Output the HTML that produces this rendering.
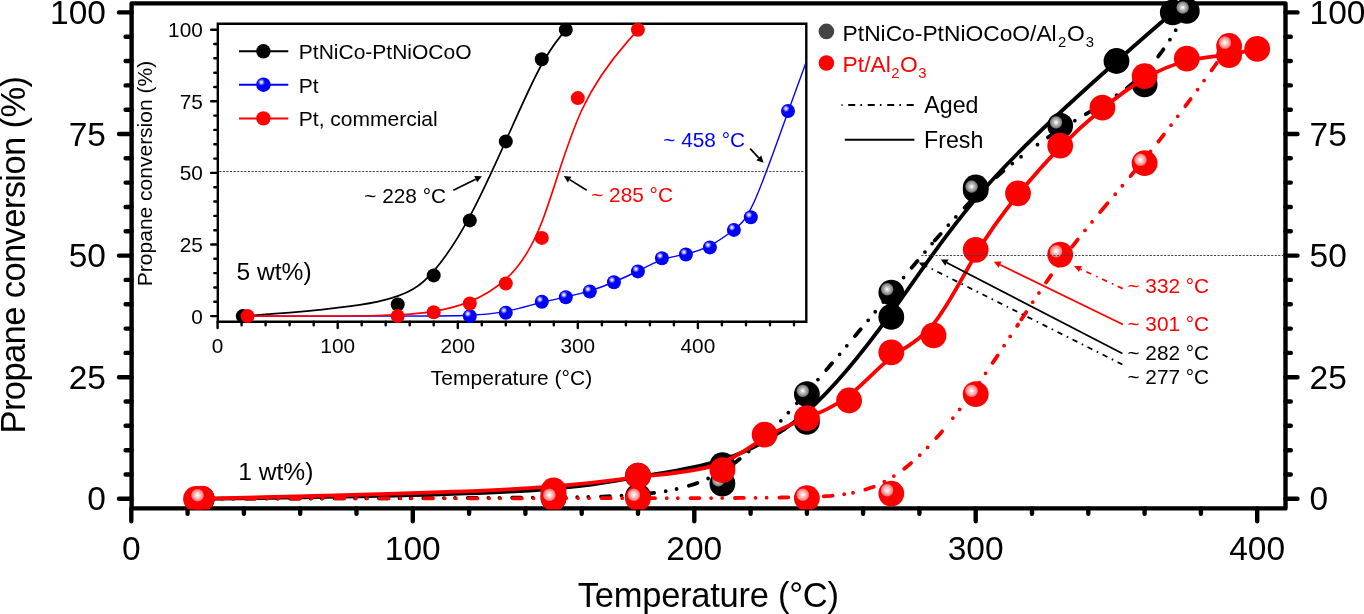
<!DOCTYPE html>
<html><head><meta charset="utf-8"><title>Propane conversion</title>
<style>html,body{margin:0;padding:0;background:#fff;}body{width:1364px;height:614px;overflow:hidden;position:relative;font-family:"Liberation Sans",sans-serif;}</style>
</head><body>
<svg width="1364" height="614" viewBox="0 0 1364 614" style="position:absolute;left:0;top:0;will-change:transform">
<defs>
<radialGradient id="gR" cx="0.34" cy="0.37" r="0.5" fx="0.34" fy="0.37">
 <stop offset="0" stop-color="#fff"/><stop offset="0.06" stop-color="#fff"/><stop offset="0.16" stop-color="#ffd2d2"/><stop offset="0.3" stop-color="#ffaaaa"/><stop offset="0.42" stop-color="#ff8282"/><stop offset="0.47" stop-color="#ff5050"/><stop offset="0.51" stop-color="#f00"/><stop offset="1" stop-color="#f00"/>
</radialGradient>
<radialGradient id="gK" cx="0.34" cy="0.37" r="0.5" fx="0.34" fy="0.37">
 <stop offset="0" stop-color="#fff"/><stop offset="0.06" stop-color="#f4f4f4"/><stop offset="0.16" stop-color="#cacaca"/><stop offset="0.3" stop-color="#a2a2a2"/><stop offset="0.42" stop-color="#828282"/><stop offset="0.47" stop-color="#484848"/><stop offset="0.51" stop-color="#000"/><stop offset="1" stop-color="#000"/>
</radialGradient>
<radialGradient id="gB" cx="0.36" cy="0.33" r="0.5" fx="0.36" fy="0.33">
 <stop offset="0" stop-color="#fff"/><stop offset="0.12" stop-color="#dcdcff"/><stop offset="0.3" stop-color="#7070ff"/><stop offset="0.5" stop-color="#00f"/><stop offset="1" stop-color="#00f"/>
</radialGradient>
</defs>
<rect width="1364" height="614" fill="#fff"/>
<line x1="219.3" y1="171.5" x2="804.3" y2="171.5" stroke="#404040" stroke-width="1" stroke-dasharray="2.1,1.47"/>
<path d="M217.8,321.8 L217.8,23.8 L806.3,23.8 L806.3,321.8 Z" fill="none" stroke="#000" stroke-width="2.4" stroke-linejoin="miter"/>
<path d="M211.2,316.1H217.8M214.3,301.8H217.8M214.3,287.5H217.8M214.3,273.1H217.8M214.3,258.8H217.8M211.2,244.5H217.8M214.3,230.2H217.8M214.3,215.9H217.8M214.3,201.5H217.8M214.3,187.2H217.8M211.2,172.9H217.8M214.3,158.6H217.8M214.3,144.3H217.8M214.3,129.9H217.8M214.3,115.6H217.8M211.2,101.3H217.8M214.3,87.0H217.8M214.3,72.7H217.8M214.3,58.3H217.8M214.3,44.0H217.8M211.2,29.7H217.8M217.6,321.8V328.0M241.6,321.8V325.2M265.6,321.8V325.2M289.6,321.8V325.2M313.7,321.8V325.2M337.7,321.8V328.0M361.7,321.8V325.2M385.7,321.8V325.2M409.7,321.8V325.2M433.7,321.8V325.2M457.8,321.8V328.0M481.8,321.8V325.2M505.8,321.8V325.2M529.8,321.8V325.2M553.8,321.8V325.2M577.8,321.8V328.0M601.9,321.8V325.2M625.9,321.8V325.2M649.9,321.8V325.2M673.9,321.8V325.2M697.9,321.8V328.0M721.9,321.8V325.2M746.0,321.8V325.2M770.0,321.8V325.2M794.0,321.8V325.2" stroke="#000" stroke-width="2.4" stroke-linecap="round"/>
<clipPath id="cpI"><rect x="218" y="23" width="588.3" height="299"/></clipPath>
<g clip-path="url(#cpI)">
<path d="M242.8,316.1 C242.8,316.1 242.8,316.1 268.6,314.2 C294.5,312.2 346.1,308.4 377.9,301.6 C409.7,294.8 421.7,285.1 433.7,271.1 C445.8,257.1 457.8,238.8 469.8,216.4 C481.8,194.1 493.8,167.7 505.8,140.9 C517.8,114.0 529.8,86.6 539.8,68.0 C549.8,49.4 557.8,39.5 561.8,34.6 C565.8,29.7 565.8,29.7 565.8,29.7" fill="none" stroke="#000" stroke-width="1.7"/>
<path d="M247.6,316.1 C247.6,316.1 247.6,316.1 272.6,316.1 C297.7,316.1 347.7,316.1 384.7,316.1 C421.7,316.1 445.8,316.1 463.8,315.5 C481.8,315.0 493.8,313.8 505.8,311.4 C517.8,309.0 529.8,305.4 539.8,302.8 C549.8,300.3 557.8,298.7 565.8,297.0 C573.8,295.3 581.8,293.4 589.8,290.9 C597.9,288.4 605.9,285.4 613.9,282.0 C621.9,278.7 629.9,275.0 637.9,271.0 C645.9,267.0 653.9,262.6 661.9,259.8 C669.9,257.0 677.9,255.8 685.9,254.0 C693.9,252.1 701.9,249.8 709.9,245.6 C717.9,241.5 725.9,235.7 732.7,230.7 C739.5,225.7 745.2,221.5 754.2,201.7 C763.2,181.9 775.6,146.5 786.8,115.2 C798.0,83.9 808.0,56.8 813.0,43.3 C818.0,29.7 818.0,29.7 818.0,29.7" fill="none" stroke="#00f" stroke-width="1.4"/>
<path d="M247.6,316.1 C247.6,316.1 247.6,316.1 272.6,316.1 C297.7,316.1 347.7,316.1 378.7,315.5 C409.7,314.8 421.7,313.5 433.7,311.4 C445.8,309.3 457.8,306.4 469.8,301.6 C481.8,296.8 493.8,290.1 505.8,279.2 C517.8,268.3 529.8,253.1 541.8,222.2 C553.8,191.3 565.8,144.7 581.8,110.0 C597.9,75.3 617.9,52.5 627.9,41.1 C637.9,29.7 637.9,29.7 637.9,29.7" fill="none" stroke="#f00" stroke-width="1.7"/>
</g>
<circle cx="242.8" cy="316.1" r="7.0" fill="#000"/>
<circle cx="397.7" cy="304.5" r="7.0" fill="#000"/>
<circle cx="433.7" cy="275.4" r="7.0" fill="#000"/>
<circle cx="469.8" cy="220.4" r="7.0" fill="#000"/>
<circle cx="505.8" cy="141.4" r="7.0" fill="#000"/>
<circle cx="541.8" cy="59.2" r="7.0" fill="#000"/>
<circle cx="565.8" cy="29.7" r="7.0" fill="#000"/>
<circle cx="469.8" cy="316.1" r="7.0" fill="url(#gB)"/>
<circle cx="505.8" cy="312.7" r="7.0" fill="url(#gB)"/>
<circle cx="541.8" cy="301.8" r="7.0" fill="url(#gB)"/>
<circle cx="565.8" cy="297.2" r="7.0" fill="url(#gB)"/>
<circle cx="589.8" cy="291.5" r="7.0" fill="url(#gB)"/>
<circle cx="613.9" cy="282.3" r="7.0" fill="url(#gB)"/>
<circle cx="637.9" cy="271.4" r="7.0" fill="url(#gB)"/>
<circle cx="661.9" cy="258.2" r="7.0" fill="url(#gB)"/>
<circle cx="685.9" cy="254.5" r="7.0" fill="url(#gB)"/>
<circle cx="709.9" cy="247.4" r="7.0" fill="url(#gB)"/>
<circle cx="733.9" cy="229.9" r="7.0" fill="url(#gB)"/>
<circle cx="750.8" cy="217.3" r="7.0" fill="url(#gB)"/>
<circle cx="788.0" cy="111.0" r="7.0" fill="url(#gB)"/>
<circle cx="247.6" cy="316.1" r="7.0" fill="#f00"/>
<circle cx="397.7" cy="316.1" r="7.0" fill="#f00"/>
<circle cx="433.7" cy="312.2" r="7.0" fill="#f00"/>
<circle cx="469.8" cy="303.5" r="7.0" fill="#f00"/>
<circle cx="505.8" cy="283.5" r="7.0" fill="#f00"/>
<circle cx="541.8" cy="237.9" r="7.0" fill="#f00"/>
<circle cx="577.8" cy="98.1" r="7.0" fill="#f00"/>
<circle cx="637.9" cy="29.7" r="7.0" fill="#f00"/>
<text x="202.8" y="323.5" font-family="Liberation Sans, sans-serif" font-size="20.8" text-anchor="end">0</text>
<text x="202.8" y="251.9" font-family="Liberation Sans, sans-serif" font-size="20.8" text-anchor="end">25</text>
<text x="202.8" y="180.3" font-family="Liberation Sans, sans-serif" font-size="20.8" text-anchor="end">50</text>
<text x="202.8" y="108.7" font-family="Liberation Sans, sans-serif" font-size="20.8" text-anchor="end">75</text>
<text x="202.8" y="37.1" font-family="Liberation Sans, sans-serif" font-size="20.8" text-anchor="end">100</text>
<text x="217.6" y="352.8" font-family="Liberation Sans, sans-serif" font-size="20.8" text-anchor="middle">0</text>
<text x="337.7" y="352.8" font-family="Liberation Sans, sans-serif" font-size="20.8" text-anchor="middle">100</text>
<text x="457.8" y="352.8" font-family="Liberation Sans, sans-serif" font-size="20.8" text-anchor="middle">200</text>
<text x="577.8" y="352.8" font-family="Liberation Sans, sans-serif" font-size="20.8" text-anchor="middle">300</text>
<text x="697.9" y="352.8" font-family="Liberation Sans, sans-serif" font-size="20.8" text-anchor="middle">400</text>
<text x="0" y="0" font-family="Liberation Sans, sans-serif" font-size="21" text-anchor="middle" transform="translate(151.8,173.5) rotate(-90)">Propane conversion (%)</text>
<text x="511.5" y="384.6" font-family="Liberation Sans, sans-serif" font-size="21" text-anchor="middle">Temperature (°C)</text>
<line x1="239" y1="51.3" x2="288.3" y2="51.3" stroke="#000" stroke-width="2"/>
<circle cx="263.4" cy="51.3" r="7.2" fill="#000"/>
<text x="298.8" y="59.2" font-family="Liberation Sans, sans-serif" font-size="21">PtNiCo-PtNiOCoO</text>
<line x1="239" y1="84.7" x2="288.3" y2="84.7" stroke="#00f" stroke-width="2"/>
<circle cx="263.4" cy="84.7" r="7.2" fill="url(#gB)"/>
<text x="298.8" y="92.6" font-family="Liberation Sans, sans-serif" font-size="21">Pt</text>
<line x1="239" y1="118.4" x2="288.3" y2="118.4" stroke="#f00" stroke-width="2"/>
<circle cx="263.4" cy="118.4" r="7.2" fill="#f00"/>
<text x="298.8" y="126.3" font-family="Liberation Sans, sans-serif" font-size="21">Pt, commercial</text>
<text x="236.5" y="280.3" font-family="Liberation Sans, sans-serif" font-size="24.6">5 wt%)</text>
<text x="364.3" y="202.9" font-family="Liberation Sans, sans-serif" font-size="20.8">~ 228 °C</text>
<text x="591.2" y="201.9" font-family="Liberation Sans, sans-serif" font-size="20.8" fill="#f00">~ 285 °C</text>
<text x="663.3" y="146.8" font-family="Liberation Sans, sans-serif" font-size="20.8" fill="#00f">~ 458 °C</text>
<line x1="453.3" y1="190.2" x2="475.7" y2="179.2" stroke="#000" stroke-width="1.7"/><path d="M481.9,176.2 L477.2,182.3 L474.2,176.1 Z" fill="#000"/>
<line x1="586.7" y1="190.2" x2="569.7" y2="179.6" stroke="#000" stroke-width="1.7"/><path d="M563.8,176.0 L571.5,176.7 L567.8,182.6 Z" fill="#000"/>
<line x1="750.1" y1="148.6" x2="758.8" y2="157.8" stroke="#000" stroke-width="1.7"/><path d="M763.6,162.8 L756.3,160.2 L761.3,155.4 Z" fill="#000"/>
<path d="M131.6,508.4 L131.6,3.35 L1285.5,3.35 L1285.5,508.4 Z" fill="none" stroke="#000" stroke-width="4.4" stroke-linejoin="round"/>
<path d="M119,498.8H131.6M1285.5,498.8H1297.5M125.6,474.5H131.6M1285.5,474.5H1290.8M125.6,450.2H131.6M1285.5,450.2H1290.8M125.6,425.8H131.6M1285.5,425.8H1290.8M125.6,401.5H131.6M1285.5,401.5H1290.8M119,377.2H131.6M1285.5,377.2H1297.5M125.6,352.9H131.6M1285.5,352.9H1290.8M125.6,328.6H131.6M1285.5,328.6H1290.8M125.6,304.2H131.6M1285.5,304.2H1290.8M125.6,279.9H131.6M1285.5,279.9H1290.8M119,255.6H131.6M1285.5,255.6H1297.5M125.6,231.3H131.6M1285.5,231.3H1290.8M125.6,207.0H131.6M1285.5,207.0H1290.8M125.6,182.6H131.6M1285.5,182.6H1290.8M125.6,158.3H131.6M1285.5,158.3H1290.8M119,134.0H131.6M1285.5,134.0H1297.5M125.6,109.7H131.6M1285.5,109.7H1290.8M125.6,85.4H131.6M1285.5,85.4H1290.8M125.6,61.0H131.6M1285.5,61.0H1290.8M125.6,36.7H131.6M1285.5,36.7H1290.8M119,12.4H131.6M1285.5,12.4H1297.5M131.3,508.4V521.2M187.6,508.4V513.8M243.9,508.4V513.8M300.2,508.4V513.8M356.5,508.4V513.8M412.8,508.4V521.2M469.1,508.4V513.8M525.4,508.4V513.8M581.7,508.4V513.8M638.0,508.4V513.8M694.3,508.4V521.2M750.6,508.4V513.8M806.9,508.4V513.8M863.1,508.4V513.8M919.4,508.4V513.8M975.7,508.4V521.2M1032.0,508.4V513.8M1088.3,508.4V513.8M1144.6,508.4V513.8M1200.9,508.4V513.8M1257.2,508.4V521.2" stroke="#000" stroke-width="4.4" stroke-linecap="round"/>
<clipPath id="cpM"><rect x="129.4" y="0" width="1158.3" height="509.6"/></clipPath><g clip-path="url(#cpM)">
<path d="M201.7,498.8 C201.7,498.8 201.7,498.8 260.3,498.0 C319.0,497.2 436.2,495.6 509.0,491.7 C581.7,487.9 609.8,481.8 638.0,477.0 C666.1,472.2 694.3,468.6 722.4,459.7 C750.6,450.7 778.7,436.3 806.9,411.6 C835.0,386.9 863.1,351.9 891.3,312.8 C919.4,273.8 947.6,230.6 985.1,188.0 C1022.7,145.3 1069.6,103.2 1102.4,74.0 C1135.2,44.8 1154.0,28.6 1163.4,20.5 C1172.8,12.4 1172.8,12.4 1172.8,12.4" fill="none" stroke="#000" stroke-width="3.8" stroke-linecap="round" stroke-linejoin="round"/>
<circle cx="201.7" cy="498.8" r="12.9" fill="#000"/>
<circle cx="553.5" cy="493.9" r="12.9" fill="#000"/>
<circle cx="638.0" cy="475.7" r="12.9" fill="#000"/>
<circle cx="722.4" cy="465.1" r="12.9" fill="#000"/>
<circle cx="806.9" cy="421.9" r="12.9" fill="#000"/>
<circle cx="891.3" cy="316.9" r="12.9" fill="#000"/>
<circle cx="975.7" cy="187.5" r="12.9" fill="#000"/>
<circle cx="1116.5" cy="61.0" r="12.9" fill="#000"/>
<circle cx="1172.8" cy="12.4" r="12.9" fill="#000"/>
<path d="M201.7,498.8 L201.7,498.8 L201.7,498.8 L201.8,498.8 L201.9,498.8 L202.2,498.8 L202.6,498.8 L203.1,498.8 L203.8,498.8 L204.8,498.8 L205.9,498.8 L207.3,498.8 L209.0,498.8 L211.0,498.8 L213.3,498.8 L216.0,498.8 L219.0,498.8 L222.5,498.7 L226.4,498.7 L230.8,498.7 L235.6,498.7 L241.0,498.7 L246.8,498.7 L253.3,498.7 L260.3,498.6 L267.9,498.6 L276.1,498.6 L284.8,498.6 L294.0,498.5 L303.7,498.5 L313.7,498.5 L324.0,498.5 L334.7,498.4 L345.6,498.4 L356.7,498.4 L368.0,498.3 L379.4,498.3 L390.8,498.2 L402.3,498.2 L413.8,498.2 L425.2,498.1 L436.5,498.1 L447.7,498.0 L458.6,498.0 L469.4,497.9 L479.8,497.9 L489.9,497.8 L499.6,497.8 L509.0,497.7 L517.8,497.7 L526.2,497.6 L534.2,497.6 L541.8,497.5 L549.0,497.5 L555.8,497.4 L562.3,497.3 L568.5,497.2 L574.3,497.2 L579.9,497.1 L585.1,497.0 L590.2,496.9 L595.0,496.7 L599.6,496.6 L603.9,496.5 L608.2,496.3 L612.2,496.1 L616.2,495.9 L620.0,495.7 L623.7,495.5 L627.3,495.3 L630.9,495.1 L634.4,494.8 L638.0,494.5 L641.5,494.2 L645.0,493.9 L648.5,493.5 L652.0,493.1 L655.6,492.7 L659.1,492.2 L662.6,491.7 L666.1,491.1 L669.6,490.5 L673.1,489.8 L676.7,489.0 L680.2,488.2 L683.7,487.3 L687.2,486.3 L690.7,485.2 L694.3,484.1 L697.8,482.8 L701.3,481.5 L704.8,480.0 L708.3,478.4 L711.9,476.7 L715.4,474.9 L718.9,473.0 L722.4,470.9 L725.9,468.7 L729.4,466.4 L733.0,463.9 L736.5,461.4" fill="none" stroke="#000" stroke-width="3.8" stroke-linecap="round" stroke-linejoin="round" stroke-dasharray="8.9,11.7,0,11.1,0,12.7" stroke-dashoffset="0.31"/>
<path d="M736.5,461.4 L740.0,458.7 L743.5,455.9 L747.0,453.0 L750.6,450.0 L754.1,446.9 L757.6,443.7 L761.1,440.5 L764.6,437.1 L768.1,433.7 L771.7,430.2 L775.2,426.6 L778.7,423.0 L782.2,419.3 L785.7,415.5 L789.3,411.7 L792.8,407.9 L796.3,404.0 L799.8,400.1 L803.3,396.2 L806.9,392.2 L810.4,388.2 L813.9,384.2 L817.4,380.2 L820.9,376.1 L824.4,372.0 L828.0,368.0 L831.5,363.8 L835.0,359.7 L838.5,355.6 L842.0,351.5 L845.6,347.3 L849.1,343.1 L852.6,338.9 L856.1,334.7 L859.6,330.5 L863.1,326.3 L866.7,322.1 L870.2,317.9 L873.7,313.6 L877.2,309.4 L880.7,305.2 L884.3,300.9 L887.8,296.7 L891.3,292.4 L894.8,288.1 L898.3,283.9 L901.9,279.6 L905.4,275.4 L908.9,271.2 L912.4,266.9 L915.9,262.7 L919.4,258.5 L923.0,254.4 L926.5,250.2 L930.0,246.1 L933.5,242.0" fill="none" stroke="#000" stroke-width="3.8" stroke-linecap="round" stroke-linejoin="round" stroke-dasharray="8.9,11.7,0,11.1,0,12.7" stroke-dashoffset="4.86"/>
<path d="M933.5,242.0 L937.0,238.0 L940.6,234.0 L944.1,230.0 L947.6,226.0 L951.1,222.1 L954.6,218.3 L958.1,214.5 L961.7,210.7 L965.2,207.1 L968.7,203.4 L972.2,199.8 L975.7,196.3 L979.3,192.9 L982.8,189.5 L986.3,186.2 L989.8,183.0 L993.3,179.8 L996.9,176.6 L1000.4,173.6 L1003.9,170.6 L1007.4,167.6 L1010.9,164.7 L1014.4,161.9 L1018.0,159.1 L1021.5,156.4 L1025.0,153.7 L1028.5,151.1" fill="none" stroke="#000" stroke-width="3.8" stroke-linecap="round" stroke-linejoin="round" stroke-dasharray="8.9,11.7,0,11.1,0,12.7" stroke-dashoffset="42.50"/>
<path d="M1028.5,151.1 L1032.0,148.5 L1035.6,146.0 L1039.1,143.5 L1042.6,141.1 L1046.1,138.7 L1049.6,136.3 L1053.1,134.0 L1056.7,131.8 L1060.2,129.5 L1063.7,127.4 L1067.2,125.2 L1070.7,123.1 L1074.2,121.0 L1077.7,119.0 L1081.2,116.9 L1084.6,114.9 L1088.1,112.9 L1091.5,110.9 L1094.9,108.9 L1098.2,106.9 L1101.5,104.9 L1104.8,102.9 L1108.0,100.8" fill="none" stroke="#000" stroke-width="3.8" stroke-linecap="round" stroke-linejoin="round" stroke-dasharray="8.9,11.7,0,11.1,0,12.7" stroke-dashoffset="20.63"/>
<path d="M1108.0,100.8 L1111.2,98.8 L1114.4,96.7 L1117.5,94.6 L1120.5,92.5 L1123.5,90.4 L1126.5,88.2 L1129.4,86.0 L1132.2,83.7 L1134.9,81.4 L1137.6,79.0 L1140.2,76.6 L1142.7,74.2 L1145.2,71.6 L1147.6,69.1 L1149.9,66.5 L1152.1,64.0 L1154.3,61.4 L1156.4,58.8 L1158.4,56.2 L1160.3,53.6 L1162.2,51.1 L1164.0,48.5 L1165.7,46.0 L1167.4,43.6 L1168.9,41.2 L1170.4,38.9 L1171.9,36.6 L1173.2,34.4 L1174.5,32.3 L1175.7,30.2 L1176.8,28.3 L1177.9,26.5 L1178.9,24.8 L1179.8,23.2 L1180.7,21.7 L1181.4,20.4 L1182.1,19.1 L1182.8,18.0 L1183.4,17.0 L1183.9,16.1 L1184.3,15.3 L1184.8,14.6 L1185.1,13.9 L1185.5,13.4 L1185.7,12.9 L1186.0,12.5 L1186.2,12.1 L1186.3,11.8 L1186.5,11.6 L1186.6,11.4 L1186.7,11.2 L1186.7,11.1 L1186.8,11.1 L1186.8,11.0 L1186.8,11.0 L1186.8,10.9 L1186.8,10.9 L1186.9,10.9" fill="none" stroke="#000" stroke-width="3.8" stroke-linecap="round" stroke-linejoin="round" stroke-dasharray="8.9,11.7,0,11.1,0,12.7" stroke-dashoffset="21.52"/>
<circle cx="201.7" cy="498.8" r="12.9" fill="url(#gK)"/>
<circle cx="553.5" cy="497.8" r="12.9" fill="url(#gK)"/>
<circle cx="638.0" cy="496.4" r="12.9" fill="url(#gK)"/>
<circle cx="722.4" cy="483.7" r="12.9" fill="url(#gK)"/>
<circle cx="806.9" cy="394.2" r="12.9" fill="url(#gK)"/>
<circle cx="891.3" cy="292.6" r="12.9" fill="url(#gK)"/>
<circle cx="975.7" cy="189.9" r="12.9" fill="url(#gK)"/>
<circle cx="1060.2" cy="125.7" r="12.9" fill="url(#gK)"/>
<circle cx="1144.6" cy="84.4" r="12.9" fill="url(#gK)"/>
<circle cx="1186.8" cy="10.9" r="12.9" fill="url(#gK)"/>
<path d="M196.0,498.8 C196.0,498.8 196.0,498.8 255.6,497.4 C315.2,496.0 434.4,493.3 508.0,489.4 C581.7,485.6 609.8,480.6 638.0,477.2 C666.1,473.8 694.3,472.0 715.4,465.1 C736.5,458.3 750.6,446.4 764.6,437.8 C778.7,429.1 792.8,423.6 806.9,417.9 C820.9,412.2 835.0,406.4 849.1,395.4 C863.1,384.5 877.2,368.4 891.3,357.6 C905.4,346.7 919.4,341.0 933.5,323.9 C947.6,306.8 961.7,278.3 975.7,254.6 C989.8,231.0 1003.9,212.1 1018.0,194.8 C1032.0,177.5 1046.1,161.6 1060.2,147.3 C1074.3,133.0 1088.3,120.4 1102.4,108.8 C1116.5,97.2 1130.6,86.7 1144.6,78.5 C1158.7,70.3 1172.8,64.4 1186.8,61.0 C1200.9,57.5 1215.0,56.3 1226.7,54.7 C1238.5,53.1 1247.8,51.0 1252.5,49.9 C1257.2,48.9 1257.2,48.9 1257.2,48.9" fill="none" stroke="#f00" stroke-width="3.8" stroke-linecap="round" stroke-linejoin="round"/>
<circle cx="196.0" cy="498.8" r="12.9" fill="#f00"/>
<circle cx="553.5" cy="490.5" r="12.9" fill="#f00"/>
<circle cx="638.0" cy="475.7" r="12.9" fill="#f00"/>
<circle cx="722.4" cy="470.1" r="12.9" fill="#f00"/>
<circle cx="764.6" cy="434.6" r="12.9" fill="#f00"/>
<circle cx="806.9" cy="418.1" r="12.9" fill="#f00"/>
<circle cx="849.1" cy="400.5" r="12.9" fill="#f00"/>
<circle cx="891.3" cy="352.4" r="12.9" fill="#f00"/>
<circle cx="933.5" cy="335.4" r="12.9" fill="#f00"/>
<circle cx="975.7" cy="249.8" r="12.9" fill="#f00"/>
<circle cx="1018.0" cy="193.3" r="12.9" fill="#f00"/>
<circle cx="1060.2" cy="145.7" r="12.9" fill="#f00"/>
<circle cx="1102.4" cy="107.7" r="12.9" fill="#f00"/>
<circle cx="1144.6" cy="76.1" r="12.9" fill="#f00"/>
<circle cx="1186.8" cy="58.6" r="12.9" fill="#f00"/>
<circle cx="1229.1" cy="55.2" r="12.9" fill="#f00"/>
<circle cx="1257.2" cy="48.9" r="12.9" fill="#f00"/>
<path d="M201.7,498.6 L201.7,498.6 L201.7,498.6 L201.8,498.6 L201.9,498.6 L202.2,498.6 L202.6,498.6 L203.1,498.6 L203.8,498.6 L204.8,498.6 L205.9,498.6 L207.3,498.6 L209.0,498.5 L211.0,498.5 L213.3,498.5 L216.0,498.5 L219.0,498.5 L222.5,498.5 L226.4,498.5 L230.8,498.5 L235.6,498.5 L241.0,498.5 L246.8,498.5 L253.3,498.5 L260.3,498.5 L267.9,498.5 L276.1,498.5 L284.8,498.5 L294.0,498.5 L303.7,498.5 L313.7,498.4 L324.0,498.4 L334.7,498.4 L345.6,498.4 L356.7,498.4 L368.0,498.4 L379.4,498.4 L390.8,498.4 L402.3,498.4 L413.8,498.4 L425.2,498.3 L436.5,498.3 L447.7,498.3 L458.6,498.3 L469.4,498.3 L479.8,498.3 L489.9,498.3 L499.6,498.3 L509.0,498.3 L517.8,498.3 L526.2,498.3 L534.2,498.3 L541.9,498.2 L549.1,498.2 L556.0,498.2 L562.7,498.2 L569.0,498.2 L575.0,498.2 L580.9,498.2 L586.5,498.2 L591.9,498.2 L597.2,498.2 L602.3,498.2 L607.4,498.2 L612.3,498.2 L617.2,498.2 L622.1,498.2 L627.0,498.2 L631.8,498.2 L636.7,498.2 L641.7,498.2 L646.8,498.2 L652.0,498.2 L657.4,498.2 L662.9,498.2 L668.5,498.2 L674.2,498.2 L680.0,498.2 L685.9,498.2 L691.9,498.1 L697.9,498.1 L704.0,498.1 L710.1,498.1 L716.3,498.1 L722.4,498.1 L728.6,498.0 L734.7,498.0 L740.8,497.9 L746.9,497.9 L752.9,497.9 L758.9,497.8 L764.8,497.7 L770.6,497.7 L776.3,497.6 L781.9,497.5 L787.4,497.4 L792.8,497.3 L798.0,497.2 L803.0,497.1 L808.0,497.0 L812.8,496.8 L817.5,496.6 L822.0,496.4 L826.5,496.1 L830.8,495.8 L835.1,495.4 L839.2,494.9 L843.3,494.4 L847.3,493.8 L851.2,493.1" fill="none" stroke="#f00" stroke-width="3.8" stroke-linecap="round" stroke-linejoin="round" stroke-dasharray="8.9,11.7,0,11.1,0,12.7" stroke-dashoffset="43.97"/>
<path d="M851.2,493.1 L855.1,492.3 L858.9,491.4 L862.6,490.4 L866.3,489.3 L870.0,488.0 L873.6,486.7 L877.2,485.2 L880.7,483.6 L884.3,481.8 L887.8,479.9 L891.3,477.8 L894.8,475.5 L898.3,473.1 L901.9,470.6 L905.4,467.8 L908.9,465.0 L912.4,462.0 L915.9,458.8 L919.4,455.5 L923.0,452.1 L926.5,448.6 L930.0,444.9 L933.5,441.1 L937.0,437.2 L940.6,433.2 L944.1,429.0 L947.6,424.8" fill="none" stroke="#f00" stroke-width="3.8" stroke-linecap="round" stroke-linejoin="round" stroke-dasharray="8.9,11.7,0,11.1,0,12.7" stroke-dashoffset="29.84"/>
<path d="M947.6,424.8 L951.1,420.4 L954.6,416.0 L958.1,411.5 L961.7,406.8 L965.2,402.1 L968.7,397.3 L972.2,392.5 L975.7,387.5 L979.3,382.5 L982.8,377.4 L986.3,372.3 L989.8,367.1 L993.3,361.9 L996.9,356.6 L1000.4,351.3 L1003.9,346.0 L1007.4,340.7 L1010.9,335.3 L1014.4,329.9 L1018.0,324.6" fill="none" stroke="#f00" stroke-width="3.8" stroke-linecap="round" stroke-linejoin="round" stroke-dasharray="8.9,11.7,0,11.1,0,12.7" stroke-dashoffset="12.16"/>
<path d="M1018.0,324.6 L1021.5,319.2 L1025.0,313.9 L1028.5,308.6 L1032.0,303.3 L1035.6,298.0 L1039.1,292.8 L1042.6,287.6 L1046.1,282.5 L1049.6,277.4 L1053.1,272.4 L1056.7,267.5 L1060.2,262.7 L1063.7,257.9 L1067.2,253.2 L1070.7,248.6 L1074.3,244.0 L1077.8,239.5 L1081.3,235.1 L1084.8,230.7 L1088.3,226.4 L1091.9,222.1 L1095.4,217.8 L1098.9,213.6 L1102.4,209.4" fill="none" stroke="#f00" stroke-width="3.8" stroke-linecap="round" stroke-linejoin="round" stroke-dasharray="8.9,11.7,0,11.1,0,12.7" stroke-dashoffset="38.20"/>
<path d="M1102.4,209.4 L1105.9,205.2 L1109.4,201.0 L1113.0,196.8 L1116.5,192.7 L1120.0,188.5 L1123.5,184.4 L1127.0,180.2 L1130.6,176.0 L1134.1,171.8 L1137.6,167.5 L1141.1,163.2 L1144.6,158.9 L1148.1,154.5 L1151.7,150.1 L1155.2,145.7 L1158.6,141.3 L1162.1,136.8 L1165.5,132.4 L1168.9,128.0 L1172.3,123.6 L1175.6,119.2 L1178.8,114.9 L1182.0,110.7 L1185.1,106.5 L1188.1,102.4 L1191.1,98.4 L1194.0,94.5 L1196.8,90.7 L1199.4,87.0 L1202.0,83.4 L1204.5,80.0 L1206.9,76.8 L1209.1,73.7 L1211.2,70.8 L1213.2,68.0 L1215.0,65.5 L1216.7,63.2 L1218.2,61.0 L1219.6,59.0 L1220.9,57.3 L1222.1,55.7 L1223.1,54.2 L1224.1,52.9 L1224.9,51.8 L1225.6,50.7 L1226.3,49.8 L1226.8,49.1 L1227.3,48.4 L1227.7,47.8 L1228.1,47.4 L1228.3,47.0 L1228.6,46.7 L1228.7,46.4 L1228.9,46.3 L1228.9,46.1 L1229.0,46.1 L1229.0,46.0 L1229.1,46.0 L1229.1,46.0 L1229.1,46.0" fill="none" stroke="#f00" stroke-width="3.8" stroke-linecap="round" stroke-linejoin="round" stroke-dasharray="8.9,11.7,0,11.1,0,12.7" stroke-dashoffset="0.75"/>
<circle cx="201.7" cy="498.6" r="12.9" fill="url(#gR)"/>
<circle cx="553.5" cy="498.2" r="12.9" fill="url(#gR)"/>
<circle cx="638.0" cy="498.2" r="12.9" fill="url(#gR)"/>
<circle cx="806.9" cy="498.1" r="12.9" fill="url(#gR)"/>
<circle cx="891.3" cy="493.6" r="12.9" fill="url(#gR)"/>
<circle cx="975.7" cy="394.2" r="12.9" fill="url(#gR)"/>
<circle cx="1060.2" cy="254.6" r="12.9" fill="url(#gR)"/>
<circle cx="1144.6" cy="163.2" r="12.9" fill="url(#gR)"/>
<circle cx="1229.1" cy="46.0" r="12.9" fill="url(#gR)"/>
</g>
<line x1="921.3" y1="255.5" x2="1283.0" y2="255.5" stroke="#404040" stroke-width="1" stroke-dasharray="2.1,1.47"/>
<line x1="1122.4" y1="364.5" x2="925.0" y2="265.5" stroke="#000" stroke-width="1.8" stroke-dasharray="5.4,4.9,1.6,4.9"/><path d="M918.8,262.4 L926.5,262.4 L923.4,268.6 Z" fill="#000"/>
<line x1="1122.4" y1="353.5" x2="946.9" y2="262.7" stroke="#000" stroke-width="1.8"/><path d="M940.8,259.5 L948.5,259.6 L945.3,265.7 Z" fill="#000"/>
<line x1="1123.0" y1="324.5" x2="1000.1" y2="264.7" stroke="#f00" stroke-width="1.8"/><path d="M993.9,261.7 L1001.6,261.6 L998.6,267.8 Z" fill="#f00"/>
<line x1="1122.7" y1="288.6" x2="1080.4" y2="269.0" stroke="#f00" stroke-width="1.8" stroke-dasharray="5.5,4.9,1.6,5.3"/><path d="M1074.1,266.1 L1081.8,265.9 L1078.9,272.1 Z" fill="#f00"/>
<text x="1127.4" y="293" font-family="Liberation Sans, sans-serif" font-size="20.8" fill="#f00">~ 332 °C</text>
<text x="1127.4" y="330.6" font-family="Liberation Sans, sans-serif" font-size="20.8" fill="#f00">~ 301 °C</text>
<text x="1127.4" y="359.9" font-family="Liberation Sans, sans-serif" font-size="20.8" fill="#000">~ 282 °C</text>
<text x="1127.4" y="383.8" font-family="Liberation Sans, sans-serif" font-size="20.8" fill="#000">~ 277 °C</text>
<text x="106" y="510.4" font-family="Liberation Sans, sans-serif" font-size="33.5" text-anchor="end">0</text>
<text x="1309.6" y="510.4" font-family="Liberation Sans, sans-serif" font-size="33.5">0</text>
<text x="106" y="388.8" font-family="Liberation Sans, sans-serif" font-size="33.5" text-anchor="end">25</text>
<text x="1309.6" y="388.8" font-family="Liberation Sans, sans-serif" font-size="33.5">25</text>
<text x="106" y="267.2" font-family="Liberation Sans, sans-serif" font-size="33.5" text-anchor="end">50</text>
<text x="1309.6" y="267.2" font-family="Liberation Sans, sans-serif" font-size="33.5">50</text>
<text x="106" y="145.6" font-family="Liberation Sans, sans-serif" font-size="33.5" text-anchor="end">75</text>
<text x="1309.6" y="145.6" font-family="Liberation Sans, sans-serif" font-size="33.5">75</text>
<text x="106" y="24.0" font-family="Liberation Sans, sans-serif" font-size="33.5" text-anchor="end">100</text>
<text x="1309.6" y="24.0" font-family="Liberation Sans, sans-serif" font-size="33.5">100</text>
<text x="131.3" y="560.3" font-family="Liberation Sans, sans-serif" font-size="33.5" text-anchor="middle">0</text>
<text x="412.8" y="560.3" font-family="Liberation Sans, sans-serif" font-size="33.5" text-anchor="middle">100</text>
<text x="694.3" y="560.3" font-family="Liberation Sans, sans-serif" font-size="33.5" text-anchor="middle">200</text>
<text x="975.7" y="560.3" font-family="Liberation Sans, sans-serif" font-size="33.5" text-anchor="middle">300</text>
<text x="1257.2" y="560.3" font-family="Liberation Sans, sans-serif" font-size="33.5" text-anchor="middle">400</text>
<text x="708.3" y="606.7" font-family="Liberation Sans, sans-serif" font-size="34.5" letter-spacing="-0.25" text-anchor="middle">Temperature (°C)</text>
<text x="0" y="0" font-family="Liberation Sans, sans-serif" font-size="34.5" letter-spacing="-0.6" text-anchor="middle" transform="translate(25.3,255) rotate(-90)">Propane conversion (%)</text>
<text x="238.2" y="479.7" font-family="Liberation Sans, sans-serif" font-size="24.6">1 wt%)</text>
<circle cx="826.4" cy="31.4" r="7.8" fill="#444"/>
<circle cx="826.4" cy="63" r="7.8" fill="#f00"/>
<text x="842.6" y="40.7" font-family="Liberation Sans, sans-serif" font-size="22.8">PtNiCo-PtNiOCoO/Al<tspan font-size="14.8" dx="1.2" dy="5.8">2</tspan><tspan dx="1" dy="-5.8">O</tspan><tspan font-size="14.8" dx="0.8" dy="5.8">3</tspan></text>
<text x="842.6" y="72.2" font-family="Liberation Sans, sans-serif" font-size="22.8" fill="#f00">Pt/Al<tspan font-size="14.8" dx="0.6" dy="5.8">2</tspan><tspan dx="0.5" dy="-5.8">O</tspan><tspan font-size="14.8" dx="0.4" dy="5.8">3</tspan></text>
<line x1="841.5" y1="105.1" x2="913.7" y2="105.1" stroke="#000" stroke-width="2" stroke-dasharray="7,5.2,1.6,5.7" stroke-dashoffset="12.8"/>
<line x1="844.8" y1="139.8" x2="914.4" y2="139.8" stroke="#000" stroke-width="2"/>
<text x="924.3" y="112.9" font-family="Liberation Sans, sans-serif" font-size="23.2">Aged</text>
<text x="924" y="147.7" font-family="Liberation Sans, sans-serif" font-size="23.2">Fresh</text>
</svg>
</body></html>
